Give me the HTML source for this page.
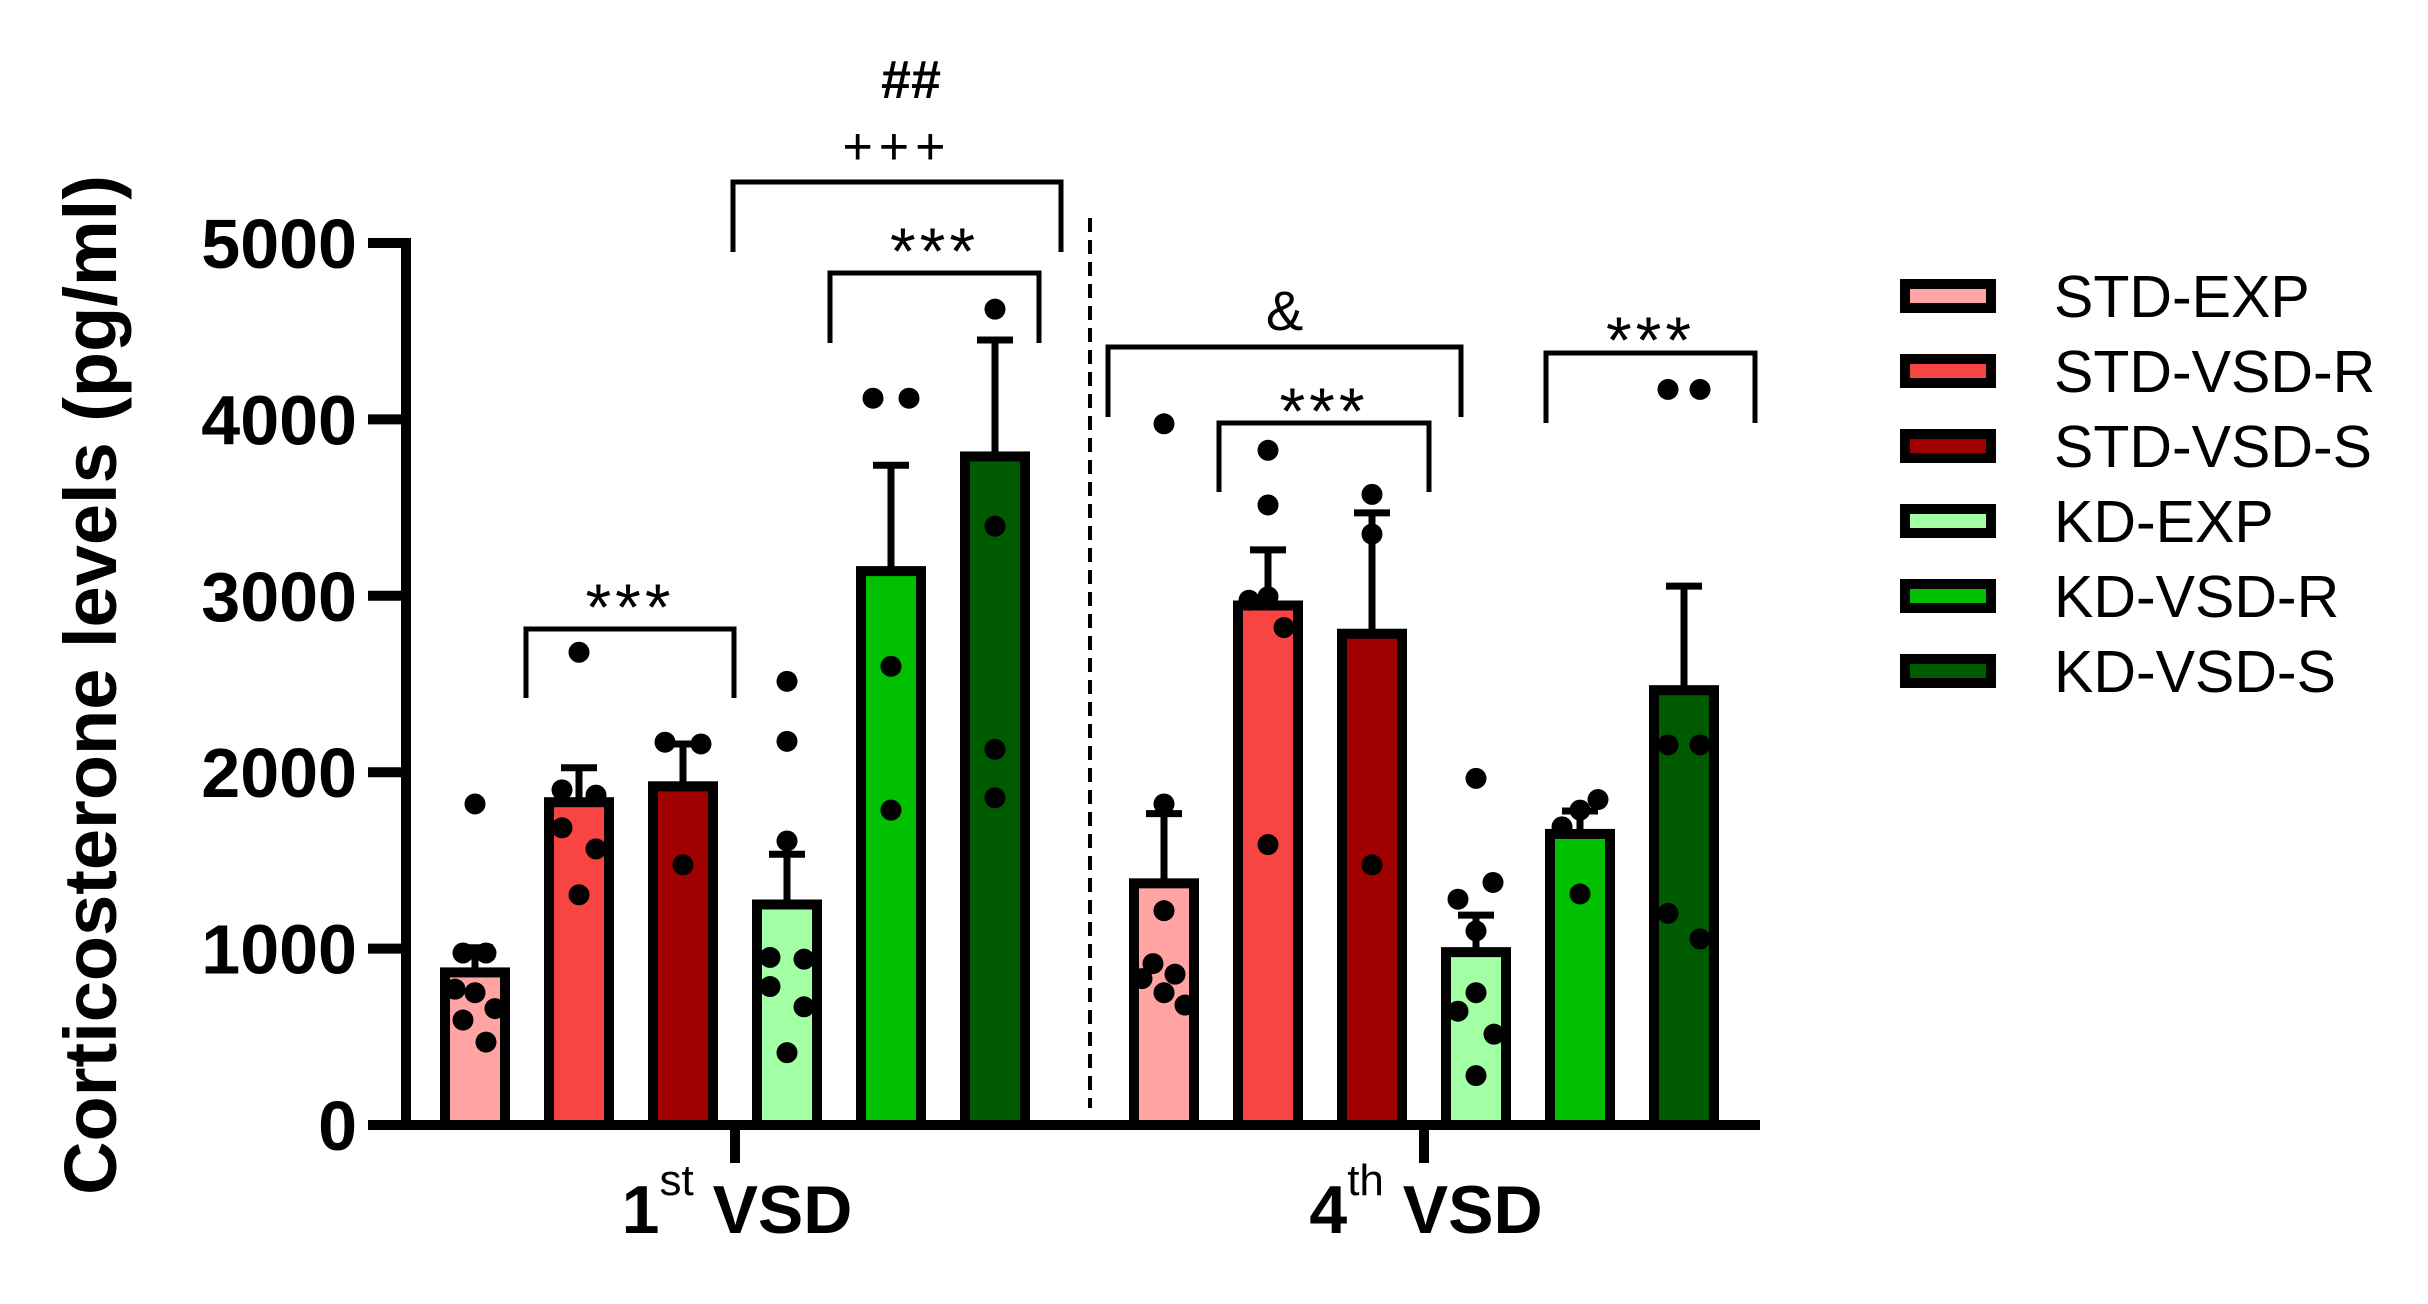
<!DOCTYPE html>
<html><head><meta charset="utf-8"><style>
html,body{margin:0;padding:0;background:#fff;}
svg{display:block;}
text{font-family:"Liberation Sans",Arial,sans-serif;}
</style></head><body>
<svg id="chart" width="2428" height="1304" viewBox="0 0 2428 1304" xmlns="http://www.w3.org/2000/svg">
<g id="plot"></g>
</svg>
<script>
const groups = ["1st VSD", "4th VSD"];
const seriesNames = ["STD-EXP","STD-VSD-R","STD-VSD-S","KD-EXP","KD-VSD-R","KD-VSD-S"];
const colors = ["#ffa3a3","#f94444","#a00000","#a3ffa3","#00c000","#005a00"];
const means1 = [865, 1830, 1920, 1250, 3140, 3790];
const means2 = [1370, 2945, 2785, 980, 1650, 2465];
const sem1 = [140, 195, 240, 285, 600, 660];
const sem2 = [395, 315, 685, 210, 130, 590];
const yTicks = [0,1000,2000,3000,4000,5000];
const dots1 = [
 [1820,975,975,770,750,660,595,470],
 [2680,1900,1870,1685,1565,1305],
 [2170,2160,1475],
 [2515,2175,1610,950,940,785,670,410],
 [4120,4120,2600,1785],
 [4625,3395,2130,1855]
];
const dots2 = [
 [3975,1820,1215,915,855,830,750,680],
 [3825,3515,2995,2975,2820,1590],
 [3575,3350,1475],
 [1965,1375,1280,1100,750,645,515,280],
 [1845,1785,1690,1310],
 [4170,4170,2155,2155,1200,1055]
];
const jit1 = [[0,-12,11,-20,0,20,-12,11],[0,-17,17,-17,17,0],[-18,18,0],[0,0,0,-17,17,-17,17,0],[-18,18,0,0],[0,0,0,0]];
const jit2 = [[0,0,0,-11,11,-22,0,21],[0,0,0,-19,16,0],[0,0,0],[0,17,-18,0,0,-18,18,0],[18,0,-18,0],[-16,16,-16,16,-16,16]];

const NS="http://www.w3.org/2000/svg";
const plot=document.getElementById('plot');
function el(tag,attrs,parent){const e=document.createElementNS(NS,tag);for(const k in attrs)e.setAttribute(k,attrs[k]);(parent||plot).appendChild(e);return e;}
const y0=1125, pxPer=176.4/1000;
function yScale(v){return y0-v*pxPer;}
const groupCenters=[735,1424];
const barStep=104;
function xScale(g,i){return groupCenters[g]+(i-2.5)*barStep;}

let a=el('line',{x1:406,y1:yScale(5000)-5,x2:406,y2:y0+5,stroke:'#000','stroke-width':10});

yTicks.forEach(t=>{
 const y=yScale(t);
 let tk=el('line',{x1:368,y1:y,x2:406,y2:y,stroke:'#000','stroke-width':10});
 
 let tl=el('text',{x:357,y:y+25,'text-anchor':'end','font-size':70,'font-weight':'bold'});
 tl.textContent=t;
 
});
let yt=el('text',{x:0,y:0,'text-anchor':'middle','font-size':74,'font-weight':'bold',transform:'translate(116,685) rotate(-90)'});
yt.textContent='Corticosterone levels (pg/ml)';


let xa=el('line',{x1:401,y1:y0,x2:1760,y2:y0,stroke:'#000','stroke-width':10});


const sups=["st","th"], nums=["1","4"];
groupCenters.forEach((cx,g)=>{
 let tk=el('line',{x1:cx,y1:y0,x2:cx,y2:1163,stroke:'#000','stroke-width':10});
 
 let t=el('text',{x:cx+2,y:1233,'text-anchor':'middle','font-size':68,'font-weight':'bold'});
 
 let s1=el('tspan',{},t);s1.textContent=nums[g];
 let s2=el('tspan',{dy:-38,'font-size':44,'font-weight':'normal'},t);s2.textContent=sups[g];
 let s3=el('tspan',{dy:38},t);s3.textContent=' VSD';
});

let ds=el('line',{x1:1090,y1:218,x2:1090,y2:1108,stroke:'#000','stroke-width':4,'stroke-dasharray':'14,8'});


[[means1,sem1,dots1,jit1],[means2,sem2,dots2,jit2]].forEach((d,g)=>{
 const [means,sems,dots,jit]=d;
 means.forEach((m,i)=>{
  const cx=xScale(g,i);
  const yt=yScale(m);
  let eb=el('line',{x1:cx,y1:yt,x2:cx,y2:yScale(m+sems[i]),stroke:'#000','stroke-width':7});
  
  let ec=el('line',{x1:cx-18,y1:yScale(m+sems[i]),x2:cx+18,y2:yScale(m+sems[i]),stroke:'#000','stroke-width':7});
  
  let r=el('rect',{x:cx-30,y:yt,width:60,height:y0-yt,fill:colors[i],stroke:'#000','stroke-width':10});
  
  dots[i].forEach((v,k)=>{
   let c=el('circle',{cx:cx+(jit[i][k]||0),cy:yScale(v),r:10.5,fill:'#000'});
   
  });
 });
});

function bracket(x1,x2,top,bot,label,ly,fs,name,ls){
 let p=el('path',{d:`M${x1},${bot} V${top} H${x2} V${bot}`,fill:'none',stroke:'#000','stroke-width':5});
 
 if(label){let t=el('text',{x:(x1+x2)/2,y:ly,'text-anchor':'middle','font-size':fs,'letter-spacing':ls||0});t.textContent=label;
 }
}
bracket(526,734,629,698,'***',630,66,'bracket-g1-a',4);
bracket(733,1061,182,252,'+++',164,52,'bracket-g1-b',6);
bracket(830,1039,273,343,'***',274,66,'bracket-g1-c',4);
bracket(1108,1461,347,417,'&',330,56,'bracket-g2-a');
bracket(1219,1429,423,492,'***',434,66,'bracket-g2-b',4);
bracket(1546,1755,353,423,'***',363,66,'bracket-g2-c',4);
let hh=el('text',{x:911,y:98,'text-anchor':'middle','font-size':54,'font-weight':'bold'});hh.textContent='##';


seriesNames.forEach((n,i)=>{
 const cy=296+i*75;
 let sw=el('rect',{x:1905,y:cy-12,width:86,height:24,fill:colors[i],stroke:'#000','stroke-width':10});
 
 let t=el('text',{x:2054,y:cy+21,'font-size':59});t.textContent=n;
 
});
</script>
</body></html>
